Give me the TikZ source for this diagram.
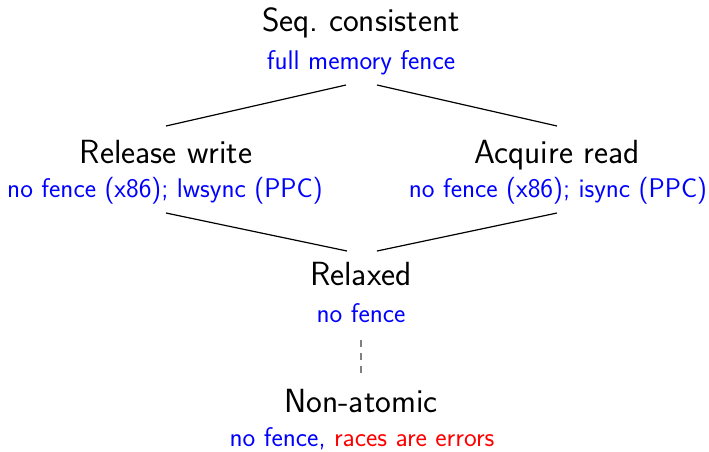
\documentclass[tikz,border=0pt]{standalone}
\renewcommand{\familydefault}{\sfdefault}
\begin{document}
\begin{tikzpicture}[x=1pt,y=-1pt,
  level/.style={font=\fontsize{33.5}{40}\selectfont, inner sep=0pt, anchor=base},
  fence/.style={font=\fontsize{27}{32}\selectfont, inner sep=0pt, anchor=base, text=blue},
  link/.style={line width=1.2pt, black}]
\useasboundingbox (0,0) rectangle (709,451);
% memory orders, strongest at the top
\node[level] (sc)  at (361,31)    {Seq.\ consistent};
\node[fence] (scf) at (361,69.5)  {full memory fence};
\node[level] (rw)  at (166,163)   {Release write};
\node[fence] (rwf) at (165,197)   {no fence (x86); lwsync (PPC)};
\node[level] (ar)  at (557,163)   {Acquire read};
\node[fence] (arf) at (558,197)   {no fence (x86); isync (PPC)};
\node[level] (rx)  at (361,285)   {Relaxed};
\node[fence] (rxf) at (361,322)   {no fence};
\node[level] (na)  at (361,412)   {Non-atomic};
\node[fence] (naf) at (362,446.5) {no fence, \textcolor{red}{races are errors}};
% attachment points of the connectors
\coordinate (scl) at (346,85);  \coordinate (scr) at (377,85);
\coordinate (rwt) at (166,126); \coordinate (art) at (557,126);
\coordinate (rwb) at (166,213); \coordinate (arb) at (557,213);
\coordinate (rxl) at (347,251); \coordinate (rxr) at (377,251);
\coordinate (rxb) at (361,340); \coordinate (nat) at (361,378);
\draw[link] (scl) -- (rwt);
\draw[link] (scr) -- (art);
\draw[link] (rwb) -- (rxl);
\draw[link] (arb) -- (rxr);
\draw[link, gray, dashed, dash pattern=on 7pt off 6pt] (rxb) -- (nat);
\end{tikzpicture}
\end{document}
